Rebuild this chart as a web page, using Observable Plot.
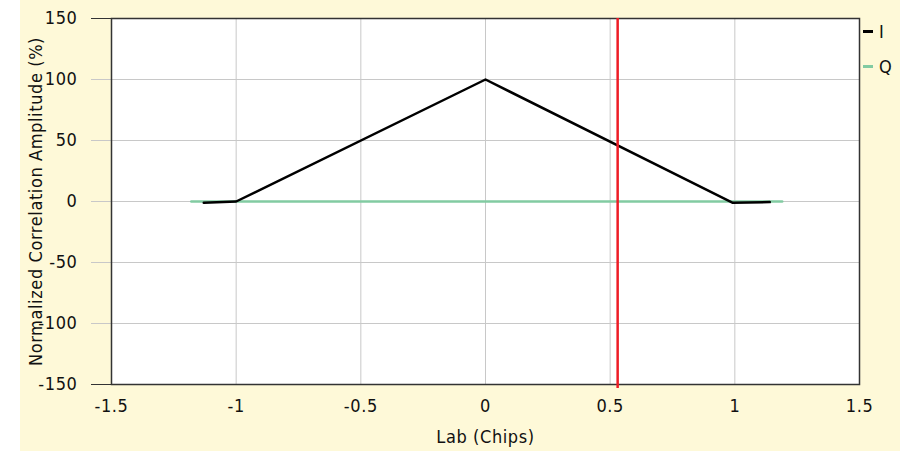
<!DOCTYPE html>
<html>
<head>
<meta charset="utf-8">
<script src="https://cdn.jsdelivr.net/npm/d3@7"></script>
<script src="https://cdn.jsdelivr.net/npm/@observablehq/plot@0.6"></script>
<style>
  html, body { margin: 0; padding: 0; background: #ffffff; }
  #wrap { position: relative; width: 913px; height: 451px; font-family: "DejaVu Sans Condensed", "DejaVu Sans", sans-serif; font-stretch: condensed; }
  #bg { position: absolute; left: 20px; top: 0; width: 880px; height: 451px; background: #fef9d8; }
  #chart { position: absolute; left: 0; top: 0; }
  #chart svg text { letter-spacing: 0.6px; }
  .leg { position: absolute; left: 863px; font-size: 18px; color: #111; display: flex; align-items: center; letter-spacing: 0.6px; }
  .leg span.sw { display: inline-block; width: 10px; height: 3px; margin-right: 6px; }
</style>
</head>
<body>
<div id="wrap">
  <div id="bg"></div>
  <div id="chart"></div>
  <div class="leg" style="top:21px"><span class="sw" style="background:#000"></span>I</div>
  <div class="leg" style="top:56px"><span class="sw" style="background:#82cba2"></span>Q</div>
</div>
<script>
// Data
const iLag = [-1.13, -1.0, 0.0, 0.99, 1.14];
const iAmp = [-1, 0, 100, -1, -0.5];
const qLag = [-1.18, 1.19];
const qAmp = [0, 0];
const markerLag = 0.53;
const xTicks = [-1.5, -1, -0.5, 0, 0.5, 1, 1.5];
const yTicks = [-150, -100, -50, 0, 50, 100, 150];

const iData = iLag.map((x, k) => ({x, y: iAmp[k]}));
const qData = qLag.map((x, k) => ({x, y: qAmp[k]}));
const fmt = d => String(d);

const plot = Plot.plot({
  width: 913,
  height: 451,
  marginLeft: 111,
  marginRight: 54,
  marginTop: 18,
  marginBottom: 67,
  style: { background: "transparent", fontFamily: "'DejaVu Sans Condensed', 'DejaVu Sans', sans-serif", fontSize: "18px", color: "#111", overflow: "visible" },
  x: { domain: [-1.5, 1.5] },
  y: { domain: [-150, 150] },
  marks: [
    Plot.frame({ fill: "white" }),
    Plot.gridX(xTicks, { stroke: "#c8c8c8", strokeOpacity: 1 }),
    Plot.gridY(yTicks, { stroke: "#c8c8c8", strokeOpacity: 1 }),
    Plot.axisY(yTicks, { tickSize: 20, stroke: "#c8c8c8", tickPadding: 14, fontSize: 18, tickFormat: fmt, label: "Normalized Correlation Amplitude (%)", labelAnchor: "center", labelArrow: "none", labelOffset: 82 }),
    Plot.axisY([-150, 150], { tickSize: 20, stroke: "#333", text: null, label: null }),
    Plot.axisX(xTicks, { tickSize: 0, tickPadding: 15, fontSize: 18, tickFormat: fmt, label: "Lab (Chips)", labelAnchor: "center", labelArrow: "none", labelOffset: 58 }),
    Plot.line(qData, { x: "x", y: "y", stroke: "#82cba2", strokeWidth: 2.5 }),
    Plot.line(iData, { x: "x", y: "y", stroke: "#000", strokeWidth: 2.5 }),
    Plot.frame({ stroke: "#333", strokeWidth: 1.5 }),
    Plot.ruleX([markerLag], { stroke: "#ee1c25", strokeWidth: 2.5, insetBottom: -4 })
  ]
});
document.getElementById("chart").appendChild(plot);
</script>
</body>
</html>
